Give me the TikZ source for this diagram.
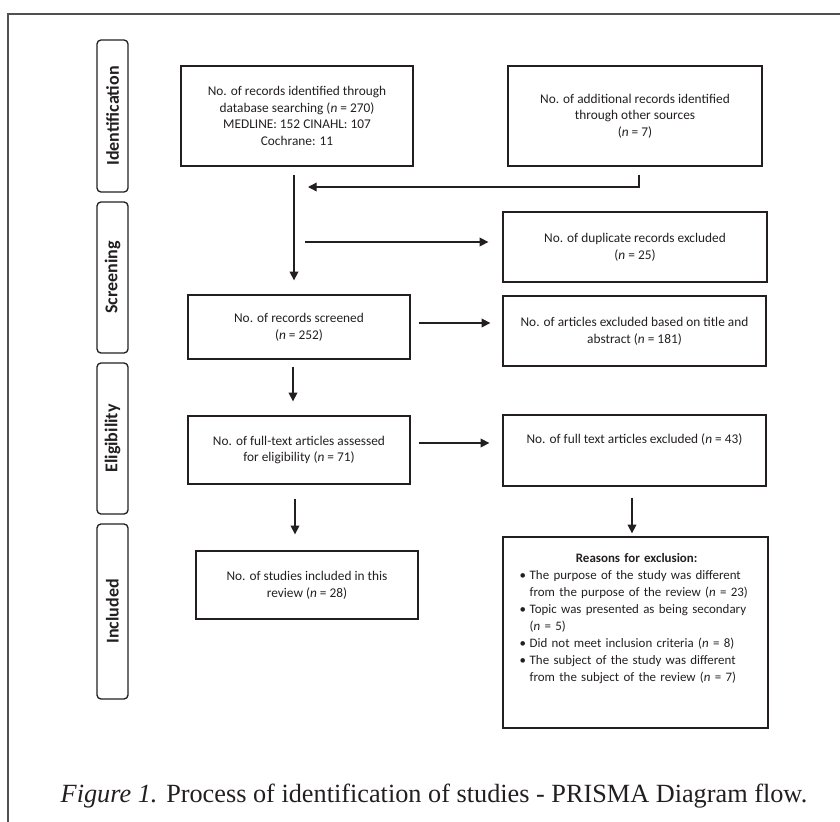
\documentclass[tikz,border=0pt]{standalone}
\usepackage{fontspec}
\setsansfont{Carlito}
\newfontfamily\capfont{Liberation Serif}
\usetikzlibrary{arrows.meta}

\newcommand{\rsnitem}[1]{{\leftskip=7.5pt\noindent\hspace*{-7.5pt}\makebox[7.5pt][l]{\textbullet}#1\par}}

\begin{document}
\begin{tikzpicture}[x=0.75pt,y=0.75pt,yscale=-1,
  box/.style={draw, line width=1pt, inner sep=0pt, align=center, font=\sffamily\fontsize{10}{12.5}\selectfont},
  side/.style={draw, line width=1pt, rounded corners=3pt, rotate=90, inner sep=0pt, minimum height=23.25pt, font=\sffamily\bfseries\fontsize{13.5}{16}\selectfont},
  arr/.style={line width=1pt, color={rgb, 255:red, 35; green, 31; blue, 32}, -{Triangle[length=6.5pt,width=6.5pt]}},
  every node/.append style={color={rgb, 255:red, 35; green, 31; blue, 32}}]
%set diagram size 840 x 822
\useasboundingbox (0,0) rectangle (840,822);

%Shape: Frame
\draw [color={rgb, 255:red, 80; green, 80; blue, 80 }, line width=1pt] (8,822) -- (8,14) -- (840,14) ;

%Shape: Side labels
\draw (112.5,116) node [side, minimum width=114pt] (idf) {Identification};
\draw (112.5,277.5) node [side, minimum width=113.25pt] (scrn) {Screening};
\draw (112.5,438.5) node [side, minimum width=113.25pt] (elig) {Eligibility};
\draw (112.5,611.5) node [side, minimum width=131.25pt] (incl) {Included};

%Shape: Rectangles
\draw (297,116) node [box, minimum width=174pt, minimum height=75pt] (db) {No. of records identified through\\ database searching (\textit{n} = 270)\\ MEDLINE: 152 CINAHL: 107\\ Cochrane: 11};
\draw (635,116) node [box, minimum width=190.5pt, minimum height=75pt] (oth) {No. of additional records identified\\ through other sources\\ (\textit{n} = 7)};
\draw (635,247) node [box, minimum width=198pt, minimum height=52.5pt] (dup) {No. of duplicate records excluded\\ (\textit{n} = 25)};
\draw (299,327) node [box, minimum width=166.5pt, minimum height=48pt] (scr) {No. of records screened\\ (\textit{n} = 252)};
\draw (634.5,331) node [box, minimum width=197.25pt, minimum height=52.5pt] (tae) {No. of articles excluded based on title and\\ abstract (\textit{n} = 181)};
\draw (299,450) node [box, minimum width=166.5pt, minimum height=51pt] (ft) {No. of full-text articles assessed\\ for eligibility (\textit{n} = 71)};
\draw (634.5,450.5) node [box, minimum width=197.25pt, minimum height=53.25pt] (fte) {};
\draw (307,585) node [box, minimum width=166.5pt, minimum height=51pt] (inc) {No. of studies included in this\\ review (\textit{n} = 28)};
\draw (635.5,632.5) node [box, minimum width=198.75pt, minimum height=143.25pt] (rsn) {};

% Text Node
\draw (634.5,440) node [box, draw=none] (ftetxt) {No. of full text articles excluded (\textit{n} = 43)};
% Text Node
\draw (519,553) node [box, draw=none, anchor=north west, text width=190pt, align=left, font=\sffamily\fontsize{9.7}{12.75}\selectfont] (rsntxt) {\noindent\makebox[175.5pt]{\textbf{Reasons for exclusion:}}\par
\rsnitem{The purpose of the study was different\newline from the purpose of the review (\textit{n} = 23)}
\rsnitem{Topic was presented as being secondary\newline (\textit{n} = 5)}
\rsnitem{Did not meet inclusion criteria (\textit{n} = 8)}
\rsnitem{The subject of the study was different\newline from the subject of the review (\textit{n} = 7)}};

%Straight Lines
\coordinate (join) at (308,187);
\coordinate (split) at (305,242);
\draw [arr] ([shift={(4,8)}]oth.south) |- (join) ;
\draw [arr] ([shift={(-3,8)}]db.south) -- ([shift={(-5,-14)}]scr.north) ;
\draw [arr] (split) -- ([shift={(-14,-5)}]dup.west) ;
\draw [arr] ([shift={(8,-4)}]scr.east) -- ([shift={(-12,-8)}]tae.west) ;
\draw [arr] ([shift={(-6,7)}]scr.south) -- ([shift={(-6,-14)}]ft.north) ;
\draw [arr] ([shift={(8,-7)}]ft.east) -- ([shift={(-13,-7.5)}]fte.west) ;
\draw [arr] ([shift={(-4,14)}]ft.south) -- ([shift={(-12,-16)}]inc.north) ;
\draw [arr] ([shift={(-2.5,11)}]fte.south) -- ([shift={(-3.5,-3)}]rsn.north) ;

% Text Node
\draw (434,802) node [anchor=base, font=\capfont\fontsize{19.7}{24}\selectfont] (cap) {\textit{Figure 1.} Process of identification of studies - PRISMA Diagram flow.};

\end{tikzpicture}
\end{document}
